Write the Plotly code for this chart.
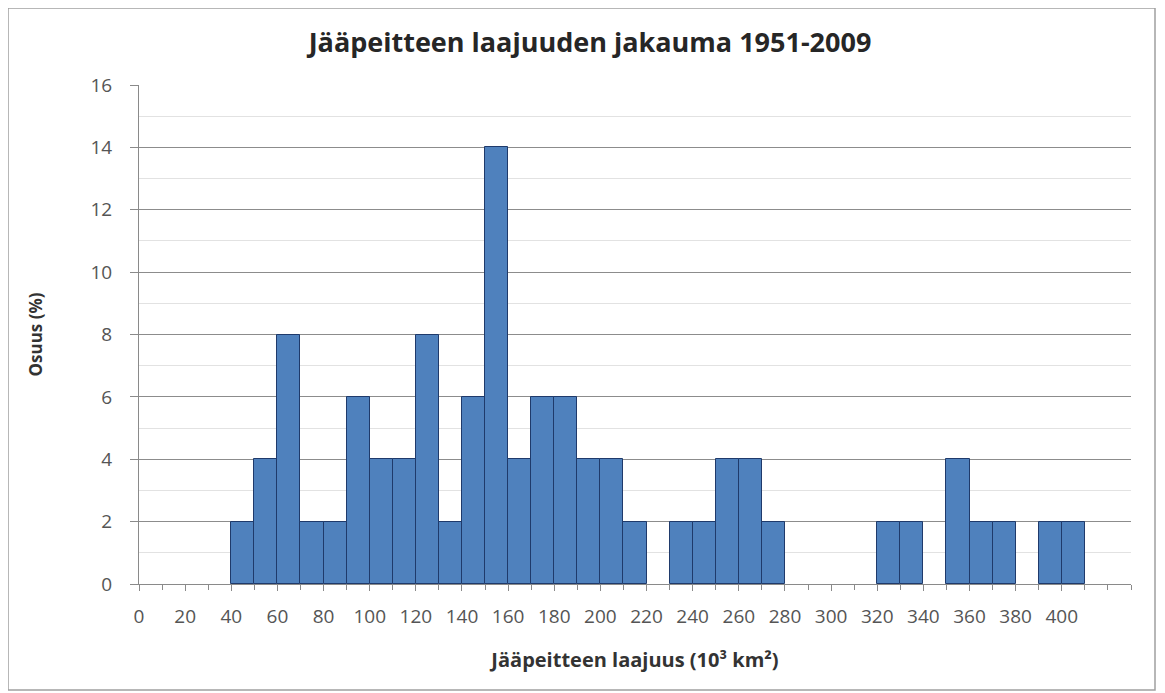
import plotly.graph_objects as go

# Data: histogram of ice-cover extent, 10-unit bins (start of bin), share in %
bin_starts = [40, 50, 60, 70, 80, 90, 100, 110, 120, 130, 140, 150, 160, 170, 180, 190,
              200, 210, 220, 230, 240, 250, 260, 270, 280, 290, 300, 310, 320, 330, 340,
              350, 360, 370, 380, 390, 400]
shares = [2, 4, 8, 2, 2, 6, 4, 4, 8, 2, 6, 14, 4, 6, 6, 4,
          4, 2, 0, 2, 2, 4, 4, 2, 0, 0, 0, 0, 2, 2, 0,
          4, 2, 2, 0, 2, 2]
x_tick_vals = list(range(0, 401, 20))
x_tick_text = [str(v) for v in x_tick_vals]
y_tick_vals = list(range(0, 17, 2))

title = "Jääpeitteen laajuuden jakauma 1951-2009"
x_title = "Jääpeitteen laajuus (10³ km²)"
y_title = "Osuus (%)"

FONT = "Open Sans"

# empty bins are not drawn
shown = [v if v > 0 else None for v in shares]

fig = go.Figure()
fig.add_trace(go.Bar(
    x=bin_starts, y=shown, width=10, offset=0,
    marker=dict(color="#4F81BD", line=dict(color="#1F3A6B", width=1)),
    showlegend=False,
))

# the page body adds an 8px margin, so the figure is 8px smaller and shifted
W, H = 1157, 685
L, T = 131, 77
R = W - (1131 - 8)
B = H - (584 - 8)
pw, ph = W - L - R, H - T - B

fig.update_layout(
    width=W, height=H,
    margin=dict(l=L, r=R, t=T, b=B),
    paper_bgcolor="white", plot_bgcolor="white",
    title=dict(text="<b>" + title + "</b>", x=(590 - 8) / W, xanchor="center",
               y=1 - (43 - 8) / H, yanchor="middle",
               font=dict(family=FONT, size=27, color="#262626")),
    bargap=0,
    font=dict(family=FONT, color="#555555"),
)

fig.update_xaxes(
    range=[0, 430], tickvals=x_tick_vals, ticktext=x_tick_text,
    showgrid=False, zeroline=False,
    showline=True, linecolor="#8a8a8a", linewidth=1,
    ticks="outside", ticklen=6, tickcolor="#8a8a8a",
    minor=dict(dtick=10, tick0=0, ticks="outside", ticklen=5, tickcolor="#8a8a8a", showgrid=False),
    tickfont=dict(family=FONT, size=19, color="#555555"),
    ticklabelstandoff=9,
    title=dict(text="<b>" + x_title + "</b>", font=dict(family=FONT, size=20, color="#333333"), standoff=25),
)
fig.update_yaxes(
    range=[0, 16], tickvals=y_tick_vals,
    showgrid=True, gridcolor="#8c8c8c", gridwidth=1,
    zeroline=False,
    showline=True, linecolor="#8a8a8a", linewidth=1,
    ticks="outside", ticklen=8, tickcolor="#8a8a8a",
    minor=dict(dtick=1, showgrid=True, gridcolor="#e2e2e2", gridwidth=1, ticks=""),
    tickfont=dict(family=FONT, size=19, color="#555555"),
    ticklabelstandoff=14,
    title=dict(text="<b>" + y_title + "</b>", font=dict(family=FONT, size=17, color="#333333"), standoff=43),
)

# outer chart frame
fig.add_shape(type="rect", xref="paper", yref="paper",
              x0=-(L - 0) / pw, x1=(1155 - 8 - L) / pw,
              y0=-(B - 3) / ph, y1=1 + (T - 0) / ph,
              line=dict(color="#a0a0a0", width=1.5), layer="below")

fig.write_html("out.html")
